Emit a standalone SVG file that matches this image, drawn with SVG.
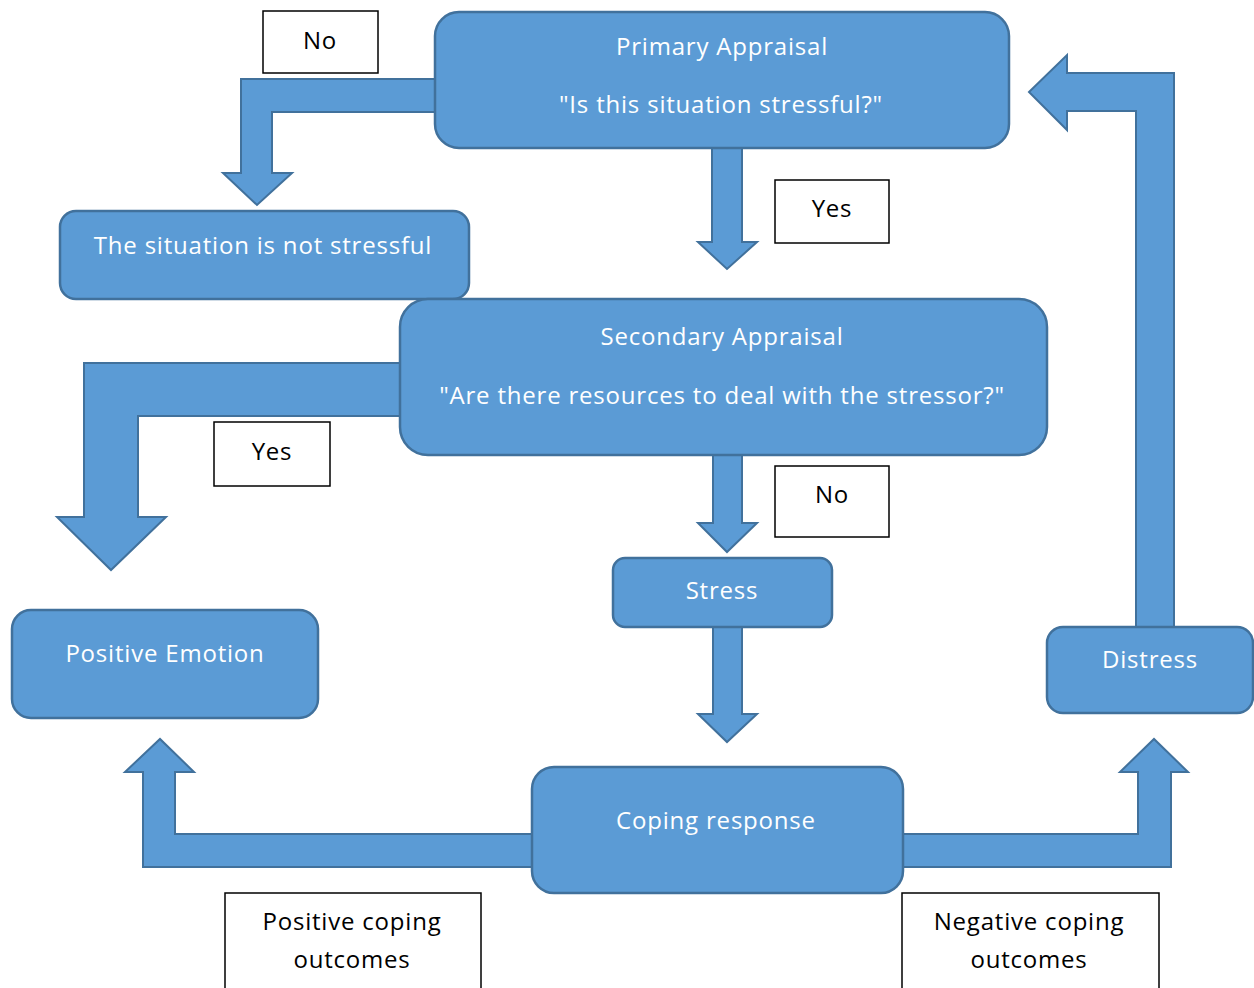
<svg xmlns="http://www.w3.org/2000/svg" width="1254" height="988" viewBox="0 0 1254 988">
<style>
.arr{fill:#5B9BD5;stroke:#41719C;stroke-width:2;stroke-linejoin:miter}
.box{fill:#5B9BD5;stroke:#41719C;stroke-width:2.5}
.lbl{fill:#FFFFFF;stroke:#000000;stroke-width:1.5}
.wt{fill:#FFFFFF;font-family:"Open Sans","Liberation Sans",sans-serif;font-size:24px;letter-spacing:0.8px;text-anchor:middle}
.bt{fill:#000000;font-family:"Open Sans","Liberation Sans",sans-serif;font-size:24px;letter-spacing:0.8px;text-anchor:middle}
</style>
<rect width="1254" height="988" fill="#FFFFFF"/>
<g id="connectors">
<path class="arr" d="M437,79 L241,79 L241,173 L223,173 L257,205 L292,173 L272,173 L272,112 L437,112 Z"/>
<path class="arr" d="M712,148 L712,242 L698,242 L727,269 L757,242 L742,242 L742,148 Z"/>
<path class="arr" d="M402,363 L84,363 L84,517 L57,517 L111,570 L166,517 L138,517 L138,416 L402,416 Z"/>
<path class="arr" d="M1136,627 L1136,111 L1067,111 L1067,130 L1029,92 L1067,55 L1067,73 L1174,73 L1174,627 Z"/>
<path class="arr" d="M713,455 L713,523 L698,523 L727,552 L757,523 L742,523 L742,455 Z"/>
<path class="arr" d="M713,627 L713,714 L698,714 L727,742 L757,714 L742,714 L742,627 Z"/>
<path class="arr" d="M534,834 L175,834 L175,772 L194,772 L160,739 L125,772 L143,772 L143,867 L534,867 Z"/>
<path class="arr" d="M901,834 L1138,834 L1138,772 L1120,772 L1154,739 L1188,772 L1171,772 L1171,867 L901,867 Z"/>
</g>
<g id="primary">
<rect class="box" x="435" y="12" width="574" height="136" rx="24"/>
<text class="wt" x="722" y="55">Primary Appraisal</text>
<text class="wt" x="721" y="113">"Is this situation stressful?"</text>
</g>
<g id="not-stressful">
<rect class="box" x="60" y="211" width="409" height="88" rx="16"/>
<text class="wt" x="263" y="254">The situation is not stressful</text>
</g>
<g id="secondary">
<rect class="box" x="400" y="299" width="647" height="156" rx="28"/>
<text class="wt" x="722" y="345">Secondary Appraisal</text>
<text class="wt" x="722" y="404">"Are there resources to deal with the stressor?"</text>
</g>
<g id="stress">
<rect class="box" x="613" y="558" width="219" height="69" rx="12"/>
<text class="wt" x="722" y="599">Stress</text>
</g>
<g id="positive-emotion">
<rect class="box" x="12" y="610" width="306" height="108" rx="19"/>
<text class="wt" x="165" y="662">Positive Emotion</text>
</g>
<g id="distress">
<rect class="box" x="1047" y="627" width="206" height="86" rx="16"/>
<text class="wt" x="1150" y="668">Distress</text>
</g>
<g id="coping">
<rect class="box" x="532" y="767" width="371" height="126" rx="22"/>
<text class="wt" x="716" y="829">Coping response</text>
</g>
<g id="label-no-1">
<rect class="lbl" x="263" y="11" width="115" height="62"/>
<text class="bt" x="320" y="49">No</text>
</g>
<g id="label-yes-1">
<rect class="lbl" x="775" y="180" width="114" height="63"/>
<text class="bt" x="832" y="217">Yes</text>
</g>
<g id="label-yes-2">
<rect class="lbl" x="214" y="422" width="116" height="64"/>
<text class="bt" x="272" y="460">Yes</text>
</g>
<g id="label-no-2">
<rect class="lbl" x="775" y="466" width="114" height="71"/>
<text class="bt" x="832" y="503">No</text>
</g>
<g id="label-positive">
<rect class="lbl" x="225" y="893" width="256" height="100"/>
<text class="bt" x="352" y="930">Positive coping</text>
<text class="bt" x="352" y="968">outcomes</text>
</g>
<g id="label-negative">
<rect class="lbl" x="902" y="893" width="257" height="100"/>
<text class="bt" x="1029" y="930">Negative coping</text>
<text class="bt" x="1029" y="968">outcomes</text>
</g>
</svg>
